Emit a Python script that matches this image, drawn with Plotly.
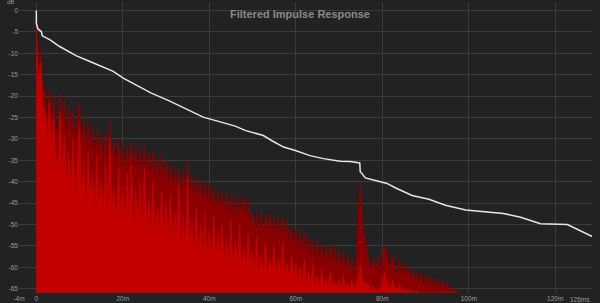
import plotly.graph_objects as go

# time grid for impulse-response bins (ms), 0.5 ms spacing
ir_time = [i * 0.5 for i in range(196)]

# dark red trace (dB)
ir_dark = [
    -2.5, -14, -8.7, -17, -19, -26, -18.5, -25, -19.5, -27,
    -29, -19.5, -26, -20.5, -30, -22.5, -29, -23, -31, -25.5,
    -21.5, -31, -25.5, -33, -26, -32, -27, -34, -28, -33,
    -29, -35, -28.5, -36, -25.5, -34, -31, -37, -30, -36,
    -31, -38, -32, -36, -30.5, -38, -31.5, -37, -32, -39,
    -31.5, -38, -33, -39.5, -32.5, -39, -34, -40, -33.5, -40,
    -35, -41, -36, -42, -36.5, -41, -37, -43, -37.5, -42,
    -35.6, -43, -38.5, -44, -39, -44, -39.5, -45, -40, -45,
    -40.5, -46, -41, -47, -42, -46, -42.5, -47.5, -42.5, -48,
    -43, -48, -43.5, -49, -43, -48, -43.5, -49, -44, -50,
    -47, -51.5, -47, -52, -47.5, -52.5, -47.5, -51.5, -47.5, -52.5,
    -48, -52.5, -48, -53, -48.5, -53.5, -48.5, -54, -50.5, -55,
    -51, -55.5, -51.5, -56, -52, -56.5, -53, -57.5, -53.5, -58,
    -54, -58.5, -54.5, -59, -55, -59.5, -54.5, -59, -55, -60,
    -56, -60, -56.5, -61, -57, -61.5, -58, -62, -58.5, -48,
    -40.2, -50.5, -53.5, -57, -59, -60.5, -57.5, -61, -58, -61.5,
    -57.5, -55.2, -55.8, -59.5, -59, -57, -60.5, -62, -58, -62.5,
    -59, -62.5, -59.5, -63, -60.5, -63.5, -61, -64, -61.5, -64.5,
    -61.5, -64.5, -62, -65, -62.5, -65.5, -62.5, -65.5, -63, -65.5,
    -63.5, -66, -64.5, -66, -65, -66,
]

# bright red trace (dB)
ir_bright = [
    -3.5, -18, -12, -22, -24, -30, -21, -32, -25, -34,
    -36, -24, -38, -29, -41, -33, -42, -30, -44, -36,
    -27, -43, -35, -46, -33, -44, -38, -47, -34, -45,
    -40, -47, -36, -48, -30, -45, -42, -49, -37, -47,
    -41, -50, -38, -48, -36, -51, -42, -49, -40, -52,
    -37, -51, -44, -52, -40, -53, -46, -51, -42, -53,
    -45, -54, -43, -55, -47, -52, -41, -55, -48, -56,
    -39, -55, -49, -57, -46, -56, -50, -57, -47, -58,
    -51, -58, -48, -59, -52, -57, -50, -59, -53, -60,
    -49, -60, -54, -59, -50, -60, -55, -61, -52, -60,
    -56, -61, -53, -62, -57, -61, -54, -62, -58, -61,
    -55, -62, -58, -61, -54, -62, -59, -63, -57, -62,
    -59, -63, -60, -63.5, -58, -64, -61, -64, -59, -64,
    -62, -64.5, -60, -65, -62.5, -64.5, -61, -65, -63, -65,
    -63, -65, -62, -65.5, -64, -65, -63, -65.5, -64, -62,
    -59, -63, -64, -64, -64.5, -65, -64.5, -65.5, -65, -65.5,
    -64, -61, -63, -64.5, -65, -63, -65, -65.5, -64, -65.5,
    -65, -65.5, -65, -66, -65.5, -66, -65.5, -66, -66, -66,
    -66, -66, -66, -66, -66, -66, -66, -66, -66, -66,
    -66, -66, -66, -66, -66, -66,
]

# decay curve (white)
decay_time = [0, 0.02, 0.37, 1.16, 1.4, 3.1, 5.4, 7.0, 9.3, 12.4, 15.4, 17.8, 20.1,
              23.9, 26.6, 30.5, 34.4, 38.6, 42.1, 46.0, 48.3, 50.2, 52.5, 54.8, 57.2,
              59.9, 63.3, 66.4, 70.3, 72.6, 74.8, 74.9, 76.1, 78.4, 81.1, 83.0, 86.9,
              90.8, 94.6, 99.3, 103, 108, 112, 116.6, 122.8, 128.6]
decay_db = [0, -3.0, -4.3, -4.9, -5.9, -6.8, -8.4, -9.3, -10.6, -11.9, -13.1, -14.2, -15.8,
            -17.8, -19.3, -21.0, -22.8, -24.9, -25.9, -27.0, -28.0, -28.5, -29.2, -30.6, -31.9,
            -32.7, -33.9, -34.6, -35.2, -35.3, -35.6, -37.6, -39.1, -39.7, -40.4, -41.4, -43.2,
            -44.1, -45.5, -46.6, -47.0, -47.4, -48.3, -49.8, -50.0, -52.8]

x_tickvals = [-4, 0, 20, 40, 60, 80, 100, 120]
x_ticktext = ["-4m", "0", "20m", "40m", "60m", "80m", "100m", "120m"]
y_tickvals = list(range(0, -70, -5))
y_ticktext = [str(v) for v in y_tickvals]

X_MIN, X_MAX = -4, 128.5
Y_MIN, Y_MAX = -66, 2

fig = go.Figure()
base_x = [ir_time[0], ir_time[-1]]
base_y = [Y_MIN, Y_MIN]

fig.add_trace(go.Scatter(x=base_x, y=base_y, mode="lines", line=dict(width=0),
                         hoverinfo="skip", showlegend=False))
fig.add_trace(go.Scatter(x=ir_time, y=ir_dark, mode="lines", fill="tonexty",
                         fillcolor="#8a0000", line=dict(color="#8a0000", width=0.8),
                         showlegend=False))
fig.add_trace(go.Scatter(x=base_x, y=base_y, mode="lines", line=dict(width=0),
                         hoverinfo="skip", showlegend=False))
fig.add_trace(go.Scatter(x=ir_time, y=ir_bright, mode="lines", fill="tonexty",
                         fillcolor="#c20000", line=dict(color="#c20000", width=0.8),
                         showlegend=False))
fig.add_trace(go.Scatter(x=decay_time, y=decay_db, mode="lines",
                         line=dict(color="#e6e6e6", width=1.5), showlegend=False))

fig.update_layout(
    width=600, height=303,
    margin=dict(l=19, r=8, t=2, b=10),
    paper_bgcolor="#222222", plot_bgcolor="#222222",
    font=dict(family="Liberation Sans, Arial, sans-serif", color="#9a9a9a", size=7),
    xaxis=dict(range=[X_MIN, X_MAX], tickvals=x_tickvals, ticktext=x_ticktext,
               showgrid=True, gridcolor="#3b3b3b", gridwidth=1, zeroline=False,
               showline=False, ticks="", tickfont=dict(size=6.5, color="#9a9a9a")),
    yaxis=dict(range=[Y_MIN, Y_MAX], tickvals=y_tickvals, ticktext=y_ticktext,
               showgrid=True, gridcolor="#3b3b3b", gridwidth=1, zeroline=False,
               showline=False, ticks="", tickfont=dict(size=6.5, color="#9a9a9a")),
    annotations=[
        dict(text="<b>Filtered Impulse Response</b>", x=0.49, y=0.985, xref="paper",
             yref="paper", xanchor="center", yanchor="top", showarrow=False,
             font=dict(size=11, color="#8a8a8a")),
        dict(text="dB", x=-0.006, y=1.0, xref="paper", yref="paper", xanchor="right",
             yanchor="middle", showarrow=False, font=dict(size=6, color="#9a9a9a")),
        dict(text="126ms", x=1.0, y=0, xref="paper", yref="paper", xanchor="right",
             yanchor="top", yshift=-1, showarrow=False, font=dict(size=6.5, color="#9a9a9a")),
    ],
)

fig.write_html("out.html")
